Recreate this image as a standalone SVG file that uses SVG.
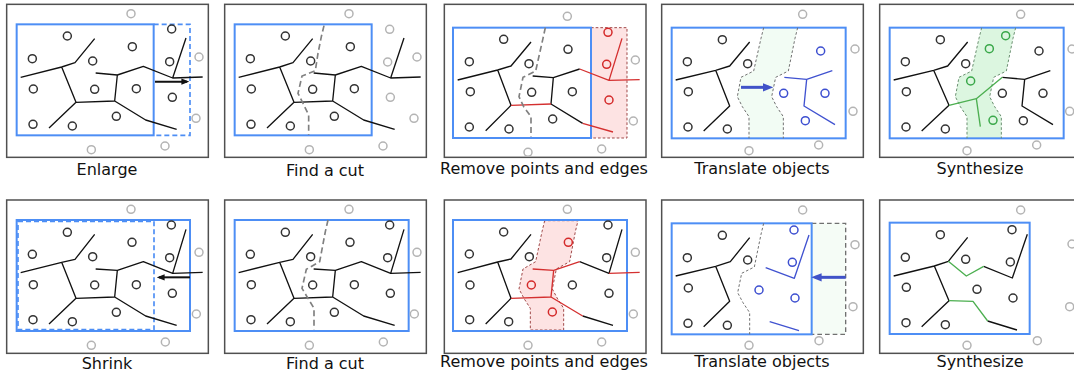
<svg xmlns="http://www.w3.org/2000/svg" width="1074" height="379" viewBox="0 0 1074 379">
<defs>
<style>
.fr{fill:#fff;stroke:#505050;stroke-width:4.5}
.bl{fill:none;stroke:#4d8ef5;stroke-width:6}
.bld{fill:none;stroke:#4d8ef5;stroke-width:5;stroke-dasharray:15 9}
.p{fill:none;stroke:#333;stroke-width:4.5}
.g{fill:none;stroke:#b4b4b4;stroke-width:4.5}
.pr{fill:none;stroke:#d42a2a;stroke-width:4.5}
.pb{fill:none;stroke:#3d4fd0;stroke-width:4.5}
.pg{fill:none;stroke:#3aa84a;stroke-width:4.5}
.e{fill:none;stroke:#111;stroke-width:4;stroke-linejoin:round}
.er{fill:none;stroke:#d43030;stroke-width:4;stroke-linejoin:round}
.eb{fill:none;stroke:#4052d0;stroke-width:4;stroke-linejoin:round}
.eg{fill:none;stroke:#4caf50;stroke-width:4;stroke-linejoin:round}
.cut{fill:none;stroke:#808080;stroke-width:5;stroke-dasharray:18 10}
.cutt{fill:none;stroke:#707070;stroke-width:3;stroke-dasharray:8 6}
.bandr{fill:#fde3e3;stroke:#a04848;stroke-width:3;stroke-dasharray:8 6}
.bandg{fill:#f2fcf4;stroke:none}
.bandG{fill:#dcf6e0;stroke:none}
.bdash{fill:none;stroke:#707070;stroke-width:3;stroke-dasharray:8 6}
.bdashg{fill:none;stroke:#6a8f70;stroke-width:3;stroke-dasharray:8 6}
.ak{fill:none;stroke:#111;stroke-width:6}
.ab{fill:none;stroke:#4052c8;stroke-width:9}
.lbl{font-family:"DejaVu Sans",sans-serif;font-size:16px;fill:#111;text-anchor:middle}
</style>
<marker id="ahk" viewBox="0 0 10 10" refX="7" refY="5" markerWidth="4" markerHeight="4" orient="auto"><path d="M0,1 L10,5 L0,9 z" fill="#111"/></marker>
<marker id="ahb" viewBox="0 0 10 10" refX="6" refY="5" markerWidth="3.5" markerHeight="3.5" orient="auto"><path d="M0,1 L10,5 L0,9 z" fill="#4052c8"/></marker>
</defs>
<rect width="1074" height="379" fill="#fff"/>

<!-- Top row -->
<g id="enlarge">
<g transform="translate(0,0) scale(0.333333)">
<rect class="fr" x="20" y="13" width="605" height="459"/>
<rect class="bl" x="50" y="73" width="411" height="333"/>
<polyline class="bld" points="461,73 570,73 570,406 461,406"/>
<path class="e" d="M62,232 L185,201 L225,188 L284,116 M185,201 L228,307 L147,384 M228,307 L344,303 L352,225 M287,219 L352,225 L430,199 L518,234 L608,231 M518,234 L558,114 M344,303 L437,360 L530,388"/>
<g class="p"><circle cx="202" cy="108" r="12"/><circle cx="397" cy="140" r="12"/><circle cx="97" cy="176" r="12"/><circle cx="278" cy="183" r="12"/><circle cx="100" cy="267" r="12"/><circle cx="284" cy="268" r="12"/><circle cx="409" cy="266" r="12"/><circle cx="99" cy="373" r="12"/><circle cx="217" cy="378" r="12"/><circle cx="349" cy="349" r="12"/><circle cx="515" cy="87" r="12"/><circle cx="509" cy="185" r="12"/><circle cx="517" cy="292" r="12"/></g>
<g class="g"><circle cx="393" cy="41" r="12"/><circle cx="597" cy="171" r="12"/><circle cx="588" cy="355" r="12"/><circle cx="495" cy="438" r="12"/><circle cx="274" cy="449" r="12"/></g>
<line class="ak" x1="465" y1="245" x2="561" y2="245" marker-end="url(#ahk)"/>
</g>
<text class="lbl" x="107" y="175">Enlarge</text>
</g>

<g id="find-cut-top">
<g transform="translate(218,0) scale(0.333333)">
<rect class="fr" x="20" y="13" width="605" height="459"/>
<rect class="bl" x="50" y="73" width="411" height="333"/>
<path class="e" d="M62,232 L185,201 L225,188 L284,116 M185,201 L228,307 L147,384 M228,307 L344,303 L352,225 M287,219 L352,225 L430,199 L518,234 L608,231 M518,234 L558,114 M344,303 L437,360 L530,388"/>
<g class="p"><circle cx="202" cy="108" r="12"/><circle cx="397" cy="140" r="12"/><circle cx="97" cy="176" r="12"/><circle cx="278" cy="183" r="12"/><circle cx="100" cy="267" r="12"/><circle cx="284" cy="268" r="12"/><circle cx="409" cy="266" r="12"/><circle cx="99" cy="373" r="12"/><circle cx="217" cy="378" r="12"/><circle cx="349" cy="349" r="12"/></g>
<g class="g"><circle cx="393" cy="41" r="12"/><circle cx="515" cy="88" r="12"/><circle cx="597" cy="171" r="12"/><circle cx="509" cy="186" r="12"/><circle cx="517" cy="292" r="12"/><circle cx="588" cy="355" r="12"/><circle cx="495" cy="438" r="12"/><circle cx="274" cy="449" r="12"/></g>
<polyline class="cut" points="318,77 310,110 300,160 292,212 252,228 240,280 256,312 272,345 272,405"/>
</g>
<text class="lbl" x="325" y="176">Find a cut</text>
</g>

<g id="remove-top">
<g transform="translate(437,0) scale(0.333333)">
<rect class="fr" x="22" y="13" width="605" height="459"/>
<rect class="bandr" x="462" y="83" width="108" height="331"/>
<rect class="bl" x="48" y="83" width="414" height="331"/>
<path class="e" d="M62,240 L182,210 L222,198 L282,126 M182,210 L222,316 L146,392 M287,228 L349,233 L428,207 M349,233 L342,312 L437,370"/>
<path class="er" d="M222,316 L342,312 M428,207 L516,241 L608,239 M516,241 L555,115 M437,370 L528,396"/>
<g class="p"><circle cx="200" cy="118" r="12"/><circle cx="393" cy="148" r="12"/><circle cx="97" cy="185" r="12"/><circle cx="276" cy="191" r="12"/><circle cx="100" cy="275" r="12"/><circle cx="284" cy="277" r="12"/><circle cx="406" cy="275" r="12"/><circle cx="97" cy="381" r="12"/><circle cx="216" cy="387" r="12"/><circle cx="347" cy="357" r="12"/></g>
<g class="pr"><circle cx="513" cy="97" r="12"/><circle cx="509" cy="193" r="12"/><circle cx="516" cy="300" r="12"/></g>
<g class="g"><circle cx="391" cy="49" r="12"/><circle cx="595" cy="180" r="12"/><circle cx="589" cy="363" r="12"/><circle cx="494" cy="447" r="12"/><circle cx="273" cy="457" r="12"/></g>
<polyline class="cut" points="325,83 318,115 296,213 258,232 246,290 260,320 282,350 282,410"/>
</g>
<text class="lbl" x="544" y="174">Remove points and edges</text>
</g>

<g id="translate-top">
<g transform="translate(655,0) scale(0.333333)">
<rect class="fr" x="20" y="13" width="605" height="459"/>
<polygon class="bandg" points="326,83 318,115 296,213 258,232 247,290 262,320 282,350 282,415 385,415 385,350 365,320 350,290 362,232 400,213 420,115 428,83"/>
<rect class="bl" x="50" y="83" width="522" height="332"/>
<polyline class="bdash" points="326,83 318,115 296,213 258,232 247,290 262,320 282,350 282,415"/>
<polyline class="bdash" points="428,83 420,115 400,213 362,232 350,290 365,320 385,350 385,415"/>
<path class="e" d="M62,240 L182,211 L224,198 L284,126 M182,211 L224,318 L146,393"/>
<path class="eb" d="M388,232 L455,238 L532,212 M455,238 L447,318 L540,374"/>
<g class="p"><circle cx="202" cy="119" r="12"/><circle cx="97" cy="185" r="12"/><circle cx="278" cy="191" r="12"/><circle cx="100" cy="275" r="12"/><circle cx="99" cy="381" r="12"/><circle cx="217" cy="387" r="12"/></g>
<g class="pb"><circle cx="497" cy="153" r="12"/><circle cx="386" cy="280" r="12"/><circle cx="510" cy="280" r="12"/><circle cx="451" cy="362" r="12"/></g>
<g class="g"><circle cx="443" cy="43" r="12"/><circle cx="600" cy="147" r="12"/><circle cx="594" cy="334" r="12"/><circle cx="491" cy="435" r="12"/><circle cx="282" cy="452" r="12"/></g>
<line class="ab" x1="258" y1="262" x2="342" y2="262" marker-end="url(#ahb)"/>
</g>
<text class="lbl" x="762" y="174">Translate objects</text>
</g>

<g id="synth-top">
<g transform="translate(873,0) scale(0.333333)">
<rect class="fr" x="20" y="13" width="605" height="459"/>
<polygon class="bandG" points="326,83 318,115 296,213 258,232 247,290 262,320 282,350 282,415 385,415 385,350 365,320 350,290 362,232 400,213 420,115 428,83"/>
<rect class="bl" x="50" y="83" width="522" height="332"/>
<polyline class="bdashg" points="326,83 318,115 296,213 258,232 247,290 262,320 282,350 282,415"/>
<polyline class="bdashg" points="428,83 420,115 400,213 362,232 350,290 365,320 385,350 385,415"/>
<path class="e" d="M62,240 L182,211 L224,198 L284,126 M182,211 L228,316 L146,393 M388,232 L455,238 L532,212 M455,238 L447,318 L540,374"/>
<path class="eg" d="M228,316 L310,296 L388,232 M310,296 L322,380"/>
<g class="p"><circle cx="202" cy="119" r="12"/><circle cx="97" cy="185" r="12"/><circle cx="278" cy="191" r="12"/><circle cx="100" cy="275" r="12"/><circle cx="99" cy="381" r="12"/><circle cx="217" cy="387" r="12"/><circle cx="498" cy="153" r="12"/><circle cx="388" cy="280" r="12"/><circle cx="510" cy="280" r="12"/><circle cx="451" cy="362" r="12"/></g>
<g class="pg"><circle cx="398" cy="107" r="12"/><circle cx="349" cy="146" r="12"/><circle cx="293" cy="243" r="12"/><circle cx="360" cy="361" r="12"/></g>
<g class="g"><circle cx="443" cy="43" r="12"/><circle cx="597" cy="147" r="12"/><circle cx="590" cy="334" r="12"/><circle cx="491" cy="435" r="12"/><circle cx="282" cy="452" r="12"/></g>
</g>
<text class="lbl" x="980" y="174">Synthesize</text>
</g>

<!-- Bottom row -->
<g id="shrink">
<g transform="translate(0,190) scale(0.333333)">
<rect class="fr" x="20" y="30" width="605" height="460"/>
<rect class="bl" x="50" y="90" width="520" height="333"/>
<rect class="bld" x="54" y="94" width="408" height="325" stroke-width="4"/>
<path class="e" d="M62,248 L185,217 L225,208 L284,133 M185,217 L228,325 L147,402 M228,325 L344,321 L352,241 M287,237 L352,241 L430,215 L518,250 L608,247 M518,250 L558,118 M344,321 L437,378 L530,406"/>
<g class="p"><circle cx="202" cy="127" r="12"/><circle cx="396" cy="157" r="12"/><circle cx="97" cy="193" r="12"/><circle cx="278" cy="200" r="12"/><circle cx="100" cy="284" r="12"/><circle cx="284" cy="285" r="12"/><circle cx="409" cy="284" r="12"/><circle cx="99" cy="389" r="12"/><circle cx="217" cy="395" r="12"/><circle cx="349" cy="367" r="12"/><circle cx="514" cy="105" r="12"/><circle cx="509" cy="203" r="12"/><circle cx="517" cy="310" r="12"/></g>
<g class="g"><circle cx="393" cy="58" r="12"/><circle cx="597" cy="187" r="12"/><circle cx="589" cy="372" r="12"/><circle cx="496" cy="456" r="12"/><circle cx="274" cy="466" r="12"/></g>
<line class="ak" x1="570" y1="262" x2="477" y2="262" marker-end="url(#ahk)"/>
</g>
<text class="lbl" x="107" y="369">Shrink</text>
</g>

<g id="find-cut-bottom">
<g transform="translate(218,190) scale(0.333333)">
<rect class="fr" x="20" y="30" width="605" height="460"/>
<rect class="bl" x="50" y="90" width="522" height="333"/>
<path class="e" d="M62,248 L185,217 L225,208 L284,133 M185,217 L228,325 L147,402 M228,325 L344,321 L352,241 M287,237 L352,241 L430,215 L518,250 L608,247 M518,250 L558,118 M344,321 L437,378 L530,406"/>
<g class="p"><circle cx="202" cy="127" r="12"/><circle cx="396" cy="157" r="12"/><circle cx="97" cy="193" r="12"/><circle cx="278" cy="200" r="12"/><circle cx="100" cy="284" r="12"/><circle cx="284" cy="285" r="12"/><circle cx="409" cy="284" r="12"/><circle cx="99" cy="389" r="12"/><circle cx="217" cy="395" r="12"/><circle cx="349" cy="367" r="12"/><circle cx="515" cy="105" r="12"/><circle cx="509" cy="203" r="12"/><circle cx="517" cy="310" r="12"/></g>
<g class="g"><circle cx="393" cy="58" r="12"/><circle cx="597" cy="187" r="12"/><circle cx="589" cy="372" r="12"/><circle cx="496" cy="456" r="12"/><circle cx="274" cy="466" r="12"/></g>
<polyline class="cut" points="330,90 322,125 305,215 265,238 252,295 270,325 288,355 288,418"/>
</g>
<text class="lbl" x="325" y="369">Find a cut</text>
</g>

<g id="remove-bottom">
<g transform="translate(437,190) scale(0.333333)">
<rect class="fr" x="22" y="30" width="605" height="460"/>
<polygon class="bandr" points="323,92 315,125 296,215 258,237 246,297 262,327 280,355 280,420 380,420 380,355 362,327 346,297 358,237 398,215 415,125 423,92"/>
<rect class="bl" x="48" y="90" width="522" height="333"/>
<path class="e" d="M62,248 L182,216 L222,207 L282,133 M182,216 L222,325 L146,402 M428,215 L516,250 L555,118 M437,378 L528,406"/>
<path class="er" d="M222,325 L342,321 M287,237 L350,241 L428,215 M350,241 L342,321 L437,378 M516,250 L608,247"/>
<g class="p"><circle cx="200" cy="126" r="12"/><circle cx="97" cy="192" r="12"/><circle cx="277" cy="200" r="12"/><circle cx="99" cy="285" r="12"/><circle cx="98" cy="389" r="12"/><circle cx="215" cy="395" r="12"/><circle cx="406" cy="285" r="12"/><circle cx="513" cy="105" r="12"/><circle cx="509" cy="203" r="12"/><circle cx="516" cy="310" r="12"/></g>
<g class="pr"><circle cx="394" cy="157" r="12"/><circle cx="283" cy="285" r="12"/><circle cx="346" cy="366" r="12"/></g>
<g class="g"><circle cx="391" cy="58" r="12"/><circle cx="595" cy="187" r="12"/><circle cx="589" cy="372" r="12"/><circle cx="494" cy="456" r="12"/><circle cx="273" cy="466" r="12"/></g>
</g>
<text class="lbl" x="544" y="367">Remove points and edges</text>
</g>

<g id="translate-bottom">
<g transform="translate(655,190) scale(0.333333)">
<rect class="fr" x="20" y="30" width="605" height="460"/>
<polyline points="470,100 572,100 572,433 470,433" fill="#f5fcf6" stroke="#707070" stroke-width="4" stroke-dasharray="14 9"/>
<rect class="bl" x="50" y="100" width="420" height="333"/>
<path class="e" d="M62,258 L182,229 L226,215 L284,143 M182,229 L224,334 L146,410"/>
<path class="eb" d="M332,233 L418,265 L462,135 M344,395 L432,422"/>
<g class="p"><circle cx="202" cy="136" r="12"/><circle cx="97" cy="203" r="12"/><circle cx="278" cy="210" r="12"/><circle cx="100" cy="294" r="12"/><circle cx="99" cy="400" r="12"/><circle cx="217" cy="406" r="12"/></g>
<g class="pb"><circle cx="417" cy="120" r="12"/><circle cx="412" cy="217" r="12"/><circle cx="312" cy="300" r="12"/><circle cx="420" cy="324" r="12"/></g>
<g class="g"><circle cx="443" cy="60" r="12"/><circle cx="600" cy="164" r="12"/><circle cx="594" cy="350" r="12"/><circle cx="492" cy="452" r="12"/><circle cx="282" cy="466" r="12"/></g>
<polyline class="cutt" points="326,100 318,133 298,231 260,250 248,308 264,338 284,368 284,433"/>
<line class="ab" x1="572" y1="262" x2="481" y2="262" marker-end="url(#ahb)"/>
</g>
<text class="lbl" x="762" y="367">Translate objects</text>
</g>

<g id="synth-bottom">
<g transform="translate(873,190) scale(0.333333)">
<rect class="fr" x="20" y="30" width="605" height="460"/>
<rect class="bl" x="50" y="98" width="420" height="334"/>
<path class="e" d="M62,258 L184,228 L226,214 L284,142 M184,228 L228,332 L146,410 M332,229 L418,264 L463,133 M344,393 L432,420"/>
<path class="eg" d="M226,214 L280,258 L332,229 M228,332 L300,334 L344,393"/>
<g class="p"><circle cx="202" cy="134" r="12"/><circle cx="97" cy="202" r="12"/><circle cx="278" cy="208" r="12"/><circle cx="100" cy="292" r="12"/><circle cx="99" cy="398" r="12"/><circle cx="217" cy="404" r="12"/><circle cx="417" cy="119" r="12"/><circle cx="412" cy="216" r="12"/><circle cx="312" cy="298" r="12"/><circle cx="420" cy="324" r="12"/></g>
<g class="g"><circle cx="443" cy="60" r="12"/><circle cx="597" cy="162" r="12"/><circle cx="590" cy="350" r="12"/><circle cx="493" cy="452" r="12"/><circle cx="282" cy="466" r="12"/></g>
</g>
<text class="lbl" x="980" y="367">Synthesize</text>
</g>
</svg>
